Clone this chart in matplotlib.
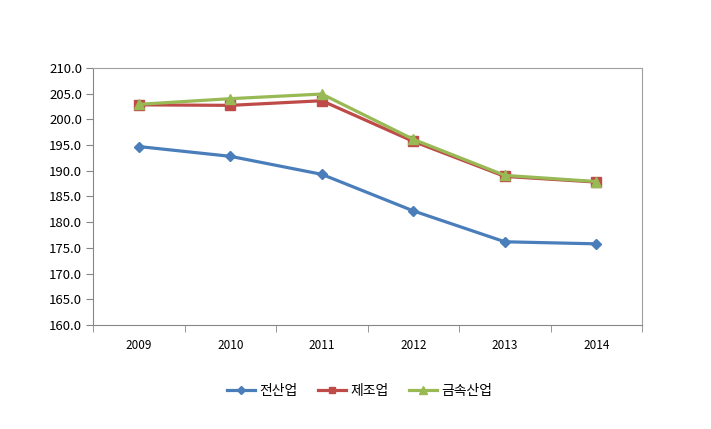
import matplotlib.pyplot as plt

plt.rcParams['font.family'] = ['Noto Sans CJK KR', 'DejaVu Sans']

# Data
years = ["2009", "2010", "2011", "2012", "2013", "2014"]
all_industry = [194.7, 192.8, 189.3, 182.2, 176.2, 175.8]
manufacturing = [202.8, 202.7, 203.6, 195.7, 188.9, 187.8]
metal_industry = [202.9, 204.0, 204.9, 196.1, 189.1, 187.9]

series_names = ["전산업", "제조업", "금속산업"]

fig = plt.figure(figsize=(7.11, 4.29), dpi=100)
ax = fig.add_axes([0.131, 0.242, 0.772, 0.600])

x = list(range(len(years)))

ax.plot(x, all_industry, color="#4A7EBB", linewidth=2.3,
        marker="D", markersize=5.5, label=series_names[0])
ax.plot(x, manufacturing, color="#BE4B48", linewidth=2.3,
        marker="s", markersize=6.5, label=series_names[1])
ax.plot(x, metal_industry, color="#98B954", linewidth=2.3,
        marker="^", markersize=7, label=series_names[2])

# Axes
ax.set_ylim(160, 210)
ax.set_yticks([160 + 5 * i for i in range(11)])
ax.set_yticklabels(["%.1f" % (160 + 5 * i) for i in range(11)])
ax.set_xlim(-0.5, len(years) - 0.5)
ax.set_xticks(x)
ax.set_xticklabels(years)
ax.set_xticks([i - 0.5 for i in range(len(years) + 1)], minor=True)
ax.tick_params(axis="x", which="major", length=0, pad=10, labelsize=8.5)
ax.tick_params(axis="x", which="minor", length=5, color="#868686")
ax.tick_params(axis="y", length=5, color="#868686", labelsize=9.5, pad=3)

for side in ["top", "right"]:
    ax.spines[side].set_color("#A0A0A0")
    ax.spines[side].set_linewidth(0.8)
for side in ["left", "bottom"]:
    ax.spines[side].set_color("#868686")
    ax.spines[side].set_linewidth(0.8)

fig.legend(loc="center", bbox_to_anchor=(0.506, 0.089), ncol=3,
           frameon=False, fontsize=10, handlelength=2, handletextpad=0.3,
           columnspacing=1.5, markerscale=0.75)

fig.savefig("out.png", dpi=100)
